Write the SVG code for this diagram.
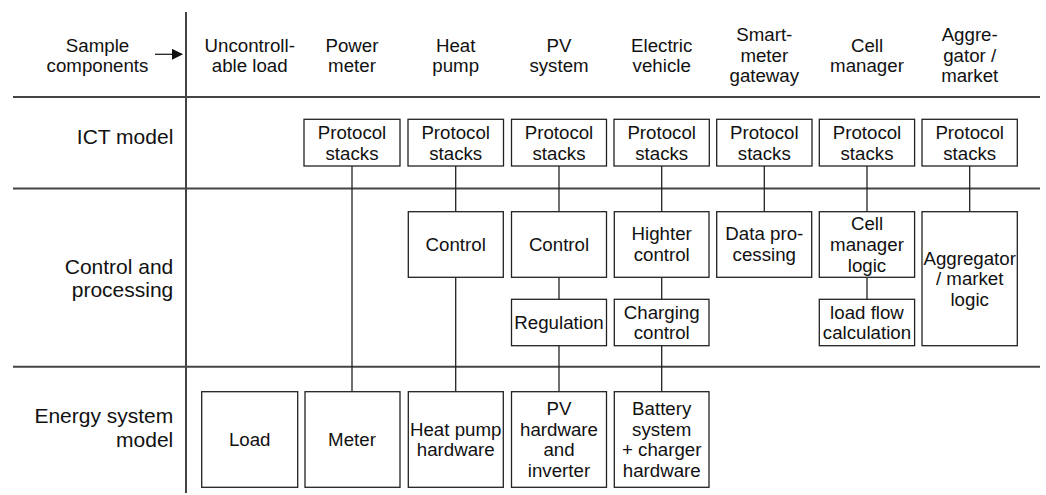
<svg xmlns="http://www.w3.org/2000/svg" width="1046" height="495" viewBox="0 0 1046 495">
<style>
text{font-family:"Liberation Sans",Arial,sans-serif;fill:#111;}
.h{font-size:18.7px;text-anchor:middle;}
.r{font-size:21px;text-anchor:end;}
.b{fill:#fff;stroke:#222;stroke-width:1.3;}
.frame{stroke:#444;stroke-width:2;fill:none;}
.c{stroke:#222;stroke-width:1.3;fill:none;}
</style>
<defs>
<marker id="ah" markerWidth="11" markerHeight="11" refX="10" refY="5.5" orient="auto" markerUnits="userSpaceOnUse">
<path d="M0,0 L11,5.5 L0,11 Z" fill="#111"/>
</marker>
</defs>
<g id="frame">
<line class="frame" x1="186" y1="12" x2="186" y2="493"/>
<line class="frame" x1="13" y1="97" x2="1040" y2="97"/>
<line class="frame" x1="13" y1="188.5" x2="1040" y2="188.5"/>
<line class="frame" x1="13" y1="366.7" x2="1040" y2="366.7"/>
</g>
<g id="connectors">
<line class="c" x1="155" y1="54.3" x2="182" y2="54.3" marker-end="url(#ah)"/>
<line class="c" x1="352" y1="166" x2="352" y2="391.7"/>
<line class="c" x1="455.7" y1="166" x2="455.7" y2="391.7"/>
<line class="c" x1="559" y1="166" x2="559" y2="391.7"/>
<line class="c" x1="661.7" y1="166" x2="661.7" y2="391.7"/>
<line class="c" x1="764.3" y1="166" x2="764.3" y2="211.7"/>
<line class="c" x1="867" y1="166" x2="867" y2="299.3"/>
<line class="c" x1="969.7" y1="166" x2="969.7" y2="211.7"/>
</g>
<g id="labels">
<text class="h" x="97.5" y="51.7">Sample</text>
<text class="h" x="97.5" y="72.3">components</text>
<text class="r" x="173.3" y="144.3">ICT model</text>
<text class="r" x="173.3" y="274.3">Control and</text>
<text class="r" x="173.3" y="296.8">processing</text>
<text class="r" x="173.3" y="423.3">Energy system</text>
<text class="r" x="173.3" y="446.5">model</text>
</g>
<g id="headers">
<text class="h" x="249.7" y="51.7">Uncontroll-</text>
<text class="h" x="249.7" y="72.3">able load</text>
<text class="h" x="352" y="51.7">Power</text>
<text class="h" x="352" y="72.3">meter</text>
<text class="h" x="455.7" y="51.7">Heat</text>
<text class="h" x="455.7" y="72.3">pump</text>
<text class="h" x="559" y="51.7">PV</text>
<text class="h" x="559" y="72.3">system</text>
<text class="h" x="661.7" y="51.7">Electric</text>
<text class="h" x="661.7" y="72.3">vehicle</text>
<text class="h" x="764.3" y="41">Smart-</text>
<text class="h" x="764.3" y="61.7">meter</text>
<text class="h" x="764.3" y="82.4">gateway</text>
<text class="h" x="867" y="51.7">Cell</text>
<text class="h" x="867" y="72.3">manager</text>
<text class="h" x="969.7" y="41">Aggre-</text>
<text class="h" x="969.7" y="61.7">gator /</text>
<text class="h" x="969.7" y="82.4">market</text>
</g>
<g id="ps-meter"><rect class="b" x="304" y="119.3" width="96" height="46.7"/><text class="h" x="352" y="139.3">Protocol</text><text class="h" x="352" y="160">stacks</text></g>
<g id="ps-heatpump"><rect class="b" x="408" y="119.3" width="95.5" height="46.7"/><text class="h" x="455.7" y="139.3">Protocol</text><text class="h" x="455.7" y="160">stacks</text></g>
<g id="ps-pv"><rect class="b" x="511.5" y="119.3" width="95" height="46.7"/><text class="h" x="559" y="139.3">Protocol</text><text class="h" x="559" y="160">stacks</text></g>
<g id="ps-ev"><rect class="b" x="614" y="119.3" width="95.3" height="46.7"/><text class="h" x="661.7" y="139.3">Protocol</text><text class="h" x="661.7" y="160">stacks</text></g>
<g id="ps-smgw"><rect class="b" x="716.7" y="119.3" width="95.3" height="46.7"/><text class="h" x="764.3" y="139.3">Protocol</text><text class="h" x="764.3" y="160">stacks</text></g>
<g id="ps-cell"><rect class="b" x="819.3" y="119.3" width="95.3" height="46.7"/><text class="h" x="867" y="139.3">Protocol</text><text class="h" x="867" y="160">stacks</text></g>
<g id="ps-aggr"><rect class="b" x="922" y="119.3" width="95.3" height="46.7"/><text class="h" x="969.7" y="139.3">Protocol</text><text class="h" x="969.7" y="160">stacks</text></g>
<g id="control-hp"><rect class="b" x="408.3" y="211.7" width="95" height="65.6"/><text class="h" x="455.7" y="251">Control</text></g>
<g id="control-pv"><rect class="b" x="511.5" y="211.7" width="95" height="65.6"/><text class="h" x="559" y="251">Control</text></g>
<g id="higher-control"><rect class="b" x="614.3" y="211.7" width="94.7" height="65.6"/><text class="h" x="661.7" y="240.4">Highter</text><text class="h" x="661.7" y="261.1">control</text></g>
<g id="data-processing"><rect class="b" x="716.7" y="211.7" width="95" height="65.6"/><text class="h" x="764.3" y="240.4">Data pro-</text><text class="h" x="764.3" y="261.1">cessing</text></g>
<g id="cell-logic"><rect class="b" x="819.3" y="211.7" width="95.3" height="65.6"/><text class="h" x="867" y="230.2">Cell</text><text class="h" x="867" y="250.9">manager</text><text class="h" x="867" y="271.6">logic</text></g>
<g id="aggr-logic"><rect class="b" x="922" y="211.7" width="95.3" height="134"/><text class="h" x="969.7" y="264.5">Aggregator</text><text class="h" x="969.7" y="285.2">/ market</text><text class="h" x="969.7" y="305.9">logic</text></g>
<g id="regulation"><rect class="b" x="511.5" y="299.3" width="95" height="46.4"/><text class="h" x="559" y="329">Regulation</text></g>
<g id="charging-control"><rect class="b" x="614.3" y="299.3" width="94.7" height="46.4"/><text class="h" x="661.7" y="318.7">Charging</text><text class="h" x="661.7" y="339.4">control</text></g>
<g id="load-flow"><rect class="b" x="819.3" y="299.3" width="95.3" height="46.4"/><text class="h" x="867" y="318.7">load flow</text><text class="h" x="867" y="339.4">calculation</text></g>
<g id="load"><rect class="b" x="201.7" y="391.7" width="96" height="95.6"/><text class="h" x="249.7" y="446">Load</text></g>
<g id="meter"><rect class="b" x="305" y="391.7" width="95" height="95.6"/><text class="h" x="352" y="446">Meter</text></g>
<g id="hp-hardware"><rect class="b" x="408.3" y="391.7" width="95" height="95.6"/><text class="h" x="455.7" y="435.7">Heat pump</text><text class="h" x="455.7" y="456.4">hardware</text></g>
<g id="pv-hardware"><rect class="b" x="511.5" y="391.7" width="95" height="95.6"/><text class="h" x="559" y="415">PV</text><text class="h" x="559" y="435.7">hardware</text><text class="h" x="559" y="456.4">and</text><text class="h" x="559" y="477.1">inverter</text></g>
<g id="battery"><rect class="b" x="614.3" y="391.7" width="94.7" height="95.6"/><text class="h" x="661.7" y="415">Battery</text><text class="h" x="661.7" y="435.7">system</text><text class="h" x="661.7" y="456.4">+ charger</text><text class="h" x="661.7" y="477.1">hardware</text></g>
</svg>
